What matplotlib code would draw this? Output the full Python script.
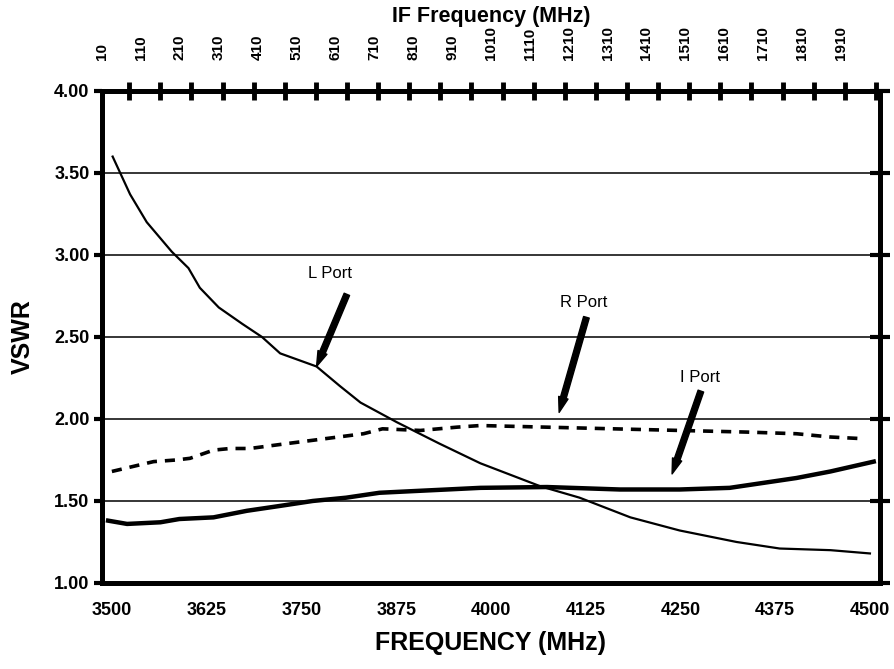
import numpy as np
import matplotlib
matplotlib.use("Agg")
import matplotlib.pyplot as plt
from matplotlib.ticker import MultipleLocator, FixedLocator

plt.rcParams["font.family"] = ["Liberation Sans", "DejaVu Sans"]
plt.rcParams["font.weight"] = "bold"

# L Port (thin solid)
l_freq = [3501, 3524, 3546, 3579, 3601, 3616, 3641, 3672, 3698, 3722, 3770, 3801, 3828,
          3876, 3932, 3986, 4065, 4117, 4184, 4249, 4324, 4381, 4448, 4500]
l_vswr = [3.60, 3.37, 3.20, 3.02, 2.92, 2.80, 2.68, 2.58, 2.50, 2.40, 2.32, 2.20, 2.10,
          1.98, 1.85, 1.73, 1.59, 1.52, 1.40, 1.32, 1.25, 1.21, 1.20, 1.18]

# R Port (dashed)
r_freq = [3500, 3555, 3585, 3603, 3634, 3656, 3682, 3731, 3765, 3832, 3857, 3907, 3955,
          3986, 4074, 4161, 4249, 4338, 4403, 4448, 4490]
r_vswr = [1.68, 1.74, 1.75, 1.76, 1.81, 1.82, 1.82, 1.85, 1.87, 1.91, 1.94, 1.93, 1.95,
          1.96, 1.95, 1.94, 1.93, 1.92, 1.91, 1.89, 1.88]

# I Port (thick solid)
i_freq = [3495, 3520, 3564, 3589, 3634, 3678, 3722, 3765, 3809, 3853, 3897, 3942, 3986,
          4074, 4170, 4249, 4315, 4359, 4403, 4448, 4505]
i_vswr = [1.38, 1.36, 1.37, 1.39, 1.40, 1.44, 1.47, 1.50, 1.52, 1.55, 1.56, 1.57, 1.58,
          1.585, 1.57, 1.57, 1.58, 1.61, 1.64, 1.68, 1.74]

x_ticks = [3500, 3625, 3750, 3875, 4000, 4125, 4250, 4375, 4500]
y_ticks = [1.0, 1.5, 2.0, 2.5, 3.0, 3.5, 4.0]
if_labels = list(range(10, 2000, 100))

# labels: (text, text pos, arrow tail, arrow tip)
notes = [
    ("L Port", (3788, 2.89), (3810, 2.76), (3770, 2.32)),
    ("R Port", (4123, 2.71), (4126, 2.62), (4090, 2.04)),
    ("I Port", (4276, 2.25), (4277, 2.17), (4239, 1.665)),
]

fig = plt.figure(figsize=(8.95, 6.69), dpi=100)
ax = fig.add_axes([0.114, 0.1286, 0.869, 0.7354])

for y in y_ticks[1:-1]:
    ax.axhline(y, color="black", lw=1.1, zorder=1)

ax.plot(l_freq, l_vswr, color="black", lw=1.6, zorder=3)
ax.plot(r_freq, r_vswr, color="black", lw=2.6, dashes=(2.8, 2.2), zorder=3)
ax.plot(i_freq, i_vswr, color="black", lw=3.2, zorder=3)

for txt, tpos, tail, tip in notes:
    ax.text(tpos[0], tpos[1], txt, ha="center", va="center", fontsize=12,
            fontweight="normal")
    ax.annotate("", xy=tip, xytext=tail,
                arrowprops=dict(arrowstyle="simple,head_length=1.1,head_width=0.7,tail_width=0.42",
                                fc="black", ec="black", lw=1, shrinkA=0, shrinkB=0))

ax.set_xlim(3487, 4513)
ax.set_ylim(1.0, 4.0)
ax.set_xticks(x_ticks)
ax.set_yticks(y_ticks)
ax.set_yticklabels([f"{v:.2f}" for v in y_ticks])
ax.tick_params(axis="x", length=0, pad=14, labelsize=13)
ax.tick_params(axis="y", which="both", direction="out", length=6, width=3,
               labelsize=13, pad=3, right=True)
for s in ax.spines.values():
    s.set_linewidth(3.5)

ax.set_xlabel("FREQUENCY (MHz)", fontsize=18, fontweight="bold", labelpad=8)
ax.set_ylabel("VSWR", fontsize=18, fontweight="bold", labelpad=14)

# right spine crossing ticks
for t in ax.yaxis.get_major_ticks():
    t.tick2line.set_marker("_")
    t.tick2line.set_markersize(14)
    t.tick2line.set_markeredgewidth(3)

top = ax.twiny()
top.set_xlim(10, 2010)
top.xaxis.set_major_locator(FixedLocator(if_labels))
top.xaxis.set_minor_locator(MultipleLocator(80))
top.tick_params(axis="x", which="major", length=0, pad=22, labelsize=11, labelrotation=90)
top.tick_params(axis="x", which="minor", direction="inout", length=13, width=3.5)
top.set_xlabel("IF Frequency (MHz)", fontsize=15.5, fontweight="bold", labelpad=3)
for s in top.spines.values():
    s.set_linewidth(3.5)

fig.savefig("out.png", dpi=100)
